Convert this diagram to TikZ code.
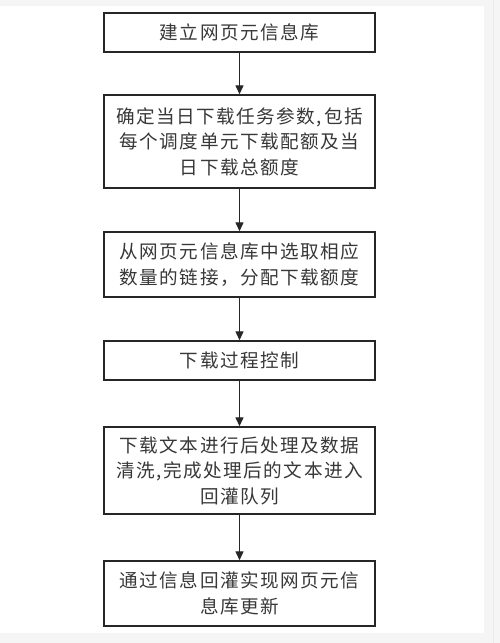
\documentclass[tikz,border=0pt]{standalone}
\usepackage{fontspec}
\setmainfont[LetterSpace=8]{Noto Sans CJK SC}
\usetikzlibrary{arrows.meta}
\newcommand{\hc}{,\kern2pt}
\begin{document}
\begin{tikzpicture}[x=1pt,y=-1pt,
  stepbox/.style={draw=black!85,line width=1.4pt,minimum width=271pt,inner sep=0pt,align=center,
    font=\fontsize{18.6pt}{25.5pt}\selectfont,text=black!78},
  flow/.style={draw=black!85,line width=1.3pt,-{Triangle[length=9pt,width=8pt]}}]
\useasboundingbox (0,0) rectangle (500,643);
\fill[black!4] (0,0) rectangle (500,643);
\fill[white] (0,6) rectangle (484,633);
\draw[black!8,line width=0.8pt] (493,0) -- (493,643);
\node[stepbox,minimum height=39pt] (a) at (239.5,32.5) {建立网页元信息库};
\node[stepbox,minimum height=93pt] (b) at (239.5,141.5) {确定当日下载任务参数\hc 包括\\每个调度单元下载配额及当\\日下载总额度};
\node[stepbox,minimum height=65pt] (c) at (239.5,264.5) {从网页元信息库中选取相应\\数量的链接，分配下载额度};
\node[stepbox,minimum height=39pt] (d) at (239.5,360.5) {下载过程控制};
\node[stepbox,minimum height=87pt] (e) at (239.5,470.5) {下载文本进行后处理及数据\\清洗\hc 完成处理后的文本进入\\回灌队列};
\node[stepbox,minimum height=65pt] (f) at (239.5,593.5) {通过信息回灌实现网页元信\\息库更新};
\draw[flow] (a) -- (b);
\draw[flow] (b) -- (c);
\draw[flow] (c) -- (d);
\draw[flow] (d) -- (e);
\draw[flow] (e) -- (f);
\end{tikzpicture}
\end{document}
